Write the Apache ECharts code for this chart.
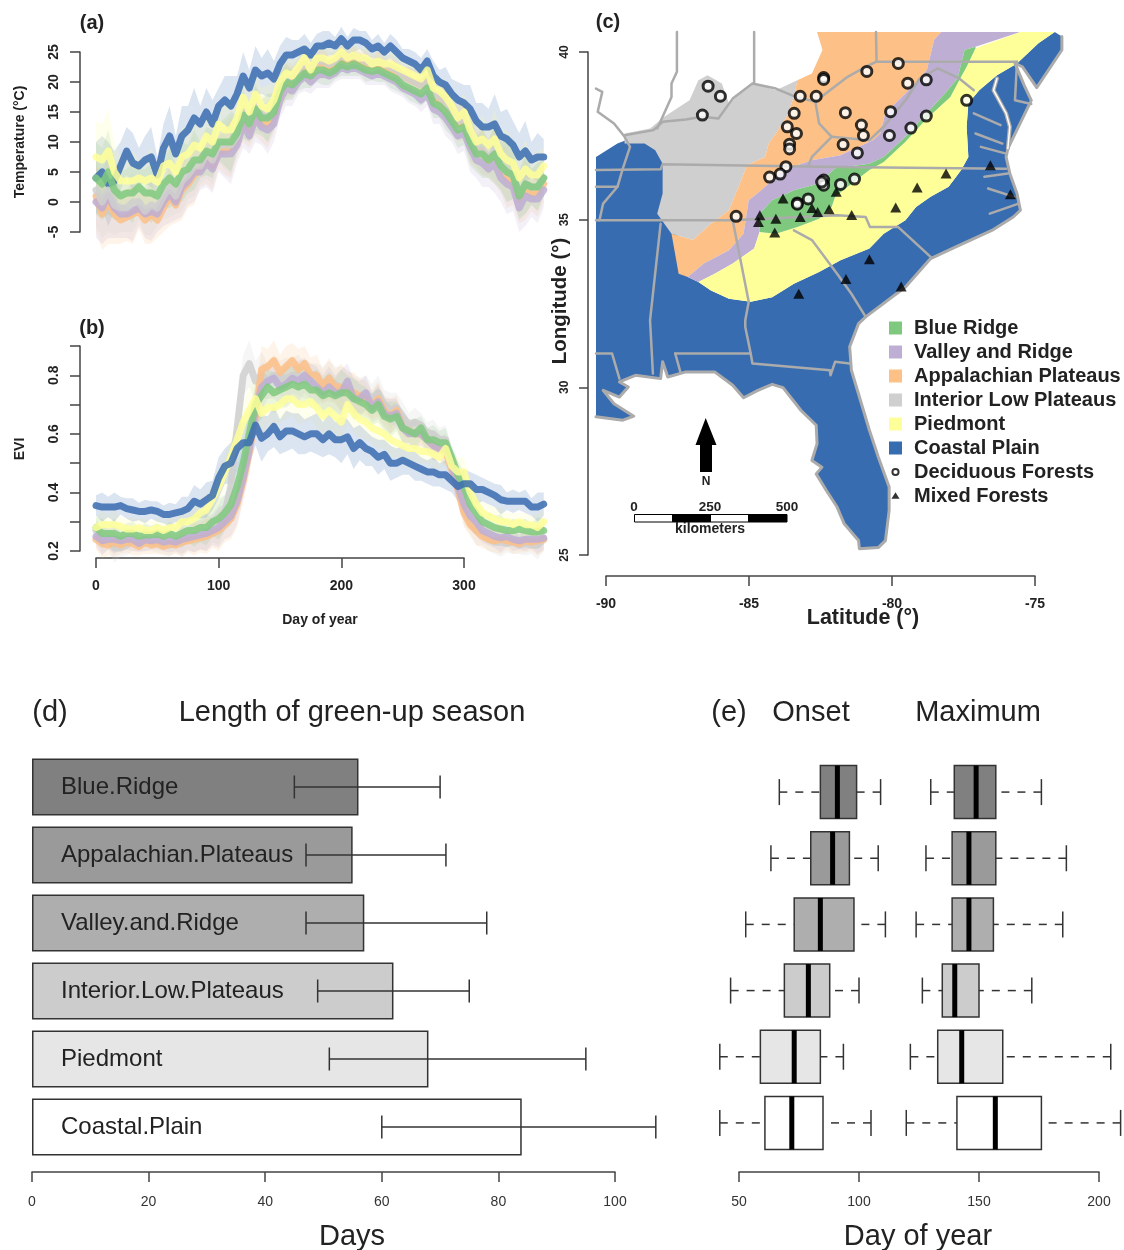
<!DOCTYPE html>
<html><head><meta charset="utf-8">
<style>html,body{margin:0;padding:0;background:#fff}#c{width:1124px;height:1250px}</style>
<script src="https://cdn.jsdelivr.net/npm/echarts@6/dist/echarts.min.js"></script>
</head><body><div id="c"></div>
<script>
// ---------- (a) temperature, one value every 5 days from day 0 to day 365 ----------
const tempBlue=[4,5,3,3.5,6,8.5,6.5,6,7,7.5,4.5,9,11,8,11,12,14,13,15,13,16,17,16,18,21,19,22,21,21.5,20.5,23,24.5,24.5,25,25.5,24.5,26,26,26.5,26,27.2,26,27,27,26.5,25.5,26,25,26,25,24,23.5,23,22,23.5,21,20,19.5,18,17,16.5,15.5,13.5,12.5,12.5,13,11,10.5,9.5,7.5,8.5,7,7.5,7.5];
const tempYellow=[7.5,7,8.5,5,3.5,3.5,3.5,4,3.5,4,3.3,6,6.5,5,7.5,8,9.5,9,11,10,13,12,12,14,17.5,15,18,16,15.5,17,20,21.5,21,22.5,24,22,24,24,23.5,24,25,24,24.5,24,24,23,23.5,23,23,22.5,22,21.5,21,20.5,22,19,18.5,17.5,16,14,15,12,10,10.5,9.5,10.5,8,7,6.5,4,5.5,4.5,4.5,6];
const tempGreen=[4,3,5,2,1,1.5,1.5,2.5,1.5,1.5,1,3,4,3,5,5.5,7,7,8.5,8,10,10,10,11.5,14.5,13,15.5,14,14,15,18.5,20,19.5,20.5,21.5,21,22,22,21.5,22,23,22.5,23,22.5,22,21.8,22,21.5,21,20.5,19.5,19,18.5,18,19,16.5,16,15,13.5,12,12.5,10,8,8,7,8,6,5,4.5,1,3,2.5,2.5,4];
const tempPurple=[0,-1,1,-1,-2,-2,-1.5,-1,-2,-1.5,-2,0,1.5,0,2.5,3.5,5,5,6.5,5.5,8,8,8,9.5,13,11,14,12.5,12,13,17,19,18.5,20,21,20,21,21.5,21,21.5,22.5,22,22.5,22,21.5,21,21.5,21,20.5,20,19,18.5,18,17,18,15.5,15,14,12.5,11,11.5,9,7,6.5,5.5,6.5,4,3,2.5,-1,1,0.5,0.5,2];
const tempOrange=[1,-2,0,-2,-3,-2.5,-2,-1.5,-3,-2,-3,-1,1,-0.5,2,3,4.5,5.5,7,6,8.5,8.5,9,10.5,14,12,15,13,13,14.5,18,20,20,21.5,22.5,21.5,23,23,22.5,23,24,23.5,24,23.5,23,22.5,23,22.5,22,21.5,21,20.5,20,19.5,20.5,17.5,17,16,14.5,13,13.5,10.5,8.5,8.5,7,8,5.5,4,3.5,0.5,2,1.5,1.5,3];
const tempGrey=[2,0,2,-0.5,-1,-1,0,0,-1.5,-0.5,-1,1,2.5,1,3.5,4.5,6,6,8,7,9.5,9.5,9.5,11,15,13,16,14.5,14,15.5,19,20.5,20.5,22,23,22,23.5,23.5,23,23.5,24.5,24,24.5,24,23.5,23,23.5,23,22.5,22,21,20.5,20,19.5,20.5,18,17.5,16.5,15,13.5,14,11,9,8.5,7.5,8.5,6,5,4.5,1.5,3,2.5,2.5,4];
const tempSpread=[6,6,7,5,4,4,5,3,4,5,3,4,5,3,5,4,5,3,4,4,3,4,5,3,4,3,4,3,4,3,3,3,2.5,2,2.5,2,2,2.5,2,1.5,2,1.5,2,1.5,2,1.5,2,1.5,2,2,1.5,2,2,2,2,2.5,2,3,2.5,3,3,4,3,4,3,5,4,5,4,4,5,3,4,3];
// ---------- (b) EVI ----------
const eviBlue=[.355,.35,.35,.35,.355,.345,.34,.335,.335,.34,.335,.325,.325,.33,.335,.345,.37,.36,.375,.39,.45,.49,.50,.55,.57,.57,.63,.585,.60,.625,.59,.61,.61,.60,.59,.60,.60,.58,.60,.58,.58,.59,.55,.57,.55,.54,.52,.53,.50,.50,.51,.50,.49,.48,.47,.47,.46,.46,.44,.42,.43,.43,.41,.41,.40,.39,.375,.37,.37,.37,.37,.35,.35,.36];
const eviYellow=[.28,.29,.29,.29,.285,.275,.275,.28,.27,.27,.28,.27,.28,.28,.30,.30,.31,.33,.34,.38,.42,.47,.52,.58,.64,.68,.72,.67,.69,.69,.70,.72,.72,.70,.70,.71,.69,.66,.68,.66,.64,.70,.67,.65,.64,.62,.61,.60,.58,.57,.56,.55,.55,.54,.54,.53,.52,.55,.49,.47,.47,.40,.36,.33,.32,.31,.30,.30,.29,.30,.29,.29,.28,.30];
const eviGreen=[.28,.26,.26,.26,.25,.26,.26,.25,.255,.255,.26,.25,.26,.25,.26,.27,.27,.28,.28,.30,.31,.33,.36,.42,.50,.60,.70,.73,.76,.74,.75,.76,.77,.76,.77,.75,.75,.73,.74,.73,.74,.74,.72,.71,.70,.68,.70,.66,.65,.66,.62,.61,.60,.62,.58,.58,.57,.57,.52,.46,.42,.36,.33,.30,.29,.28,.275,.27,.27,.275,.27,.265,.265,.27];
const eviPurple=[.25,.235,.24,.24,.235,.24,.24,.225,.24,.235,.24,.23,.235,.23,.24,.245,.25,.255,.26,.27,.28,.30,.32,.37,.45,.55,.68,.76,.78,.79,.76,.77,.79,.78,.80,.78,.76,.74,.76,.74,.74,.78,.72,.72,.74,.69,.71,.67,.66,.67,.62,.60,.60,.60,.58,.56,.55,.55,.49,.42,.36,.32,.30,.27,.26,.25,.245,.25,.24,.235,.24,.24,.24,.245];
const eviOrange=[.24,.225,.22,.23,.22,.23,.225,.215,.23,.22,.225,.215,.225,.22,.23,.235,.24,.245,.25,.26,.27,.29,.31,.36,.44,.54,.66,.82,.83,.85,.81,.83,.85,.82,.84,.80,.80,.76,.79,.76,.76,.75,.74,.73,.72,.70,.72,.68,.66,.68,.62,.61,.60,.60,.58,.56,.55,.54,.48,.41,.33,.29,.27,.25,.24,.235,.24,.235,.23,.225,.235,.23,.235,.24];
const eviGrey=[.27,.24,.24,.21,.21,.22,.24,.23,.24,.23,.23,.22,.22,.225,.23,.24,.25,.255,.26,.28,.29,.33,.42,.62,.80,.84,.78,.80,.78,.80,.79,.79,.80,.80,.78,.78,.77,.77,.78,.77,.75,.76,.73,.73,.74,.72,.74,.70,.68,.69,.66,.63,.64,.63,.60,.60,.58,.58,.50,.44,.34,.30,.27,.26,.24,.23,.23,.225,.23,.22,.225,.22,.22,.24];
const eviSpread=[.035,.05,.035,.05,.03,.035,.04,.03,.04,.03,.035,.03,.04,.03,.05,.04,.055,.05,.06,.05,.07,.06,.07,.08,.07,.08,.07,.08,.06,.07,.06,.07,.06,.07,.06,.06,.07,.06,.07,.06,.08,.06,.07,.06,.06,.05,.06,.05,.06,.05,.05,.04,.05,.04,.04,.05,.04,.05,.04,.05,.05,.04,.05,.04,.04,.04,.05,.03,.04,.03,.04,.03,.05,.04];

// ---------- (c) map outlines, [longitude, latitude] ----------
const fallLine=[[-74.31,40.60],[-74.88,40.26],[-75.63,39.66],[-76.33,39.31],[-76.95,38.86],[-77.33,38.47],[-77.39,37.77],[-77.33,36.87],[-77.58,36.48],[-78.02,35.98],[-78.65,35.68],[-79.16,35.38],[-79.53,34.98],[-80.29,34.58],[-80.79,34.14],[-81.80,33.79],[-82.55,33.44],[-83.43,33.09],[-84.19,32.69],[-84.94,32.55],[-85.70,32.64],[-86.33,32.89],[-86.77,33.14]];
const plainWest=[[-87.14,33.29],[-87.30,33.60],[-87.40,34.20],[-87.55,34.70],[-88.00,35.20],[-87.90,35.78],[-87.90,36.67],[-88.10,37.10],[-88.50,37.35],[-89.35,37.35],[-89.60,37.27],[-90.35,36.87]];
const coastLine=[[-90.35,29.12],[-89.41,29.02],[-89.03,29.14],[-89.72,29.51],[-90.10,29.91],[-89.53,29.71],[-89.22,30.01],[-89.53,30.16],[-88.97,30.36],[-88.09,30.26],[-88.02,30.76],[-87.84,30.31],[-87.21,30.46],[-86.20,30.46],[-85.57,30.06],[-85.19,29.69],[-84.69,29.91],[-84.19,30.09],[-83.81,29.99],[-83.18,29.31],[-82.65,28.87],[-82.62,28.32],[-82.80,27.82],[-82.45,27.62],[-82.65,27.42],[-82.30,26.93],[-81.92,26.43],[-81.67,25.93],[-81.17,25.43],[-81.14,25.19],[-80.48,25.22],[-80.23,25.43],[-80.10,26.33],[-80.10,27.03],[-80.48,27.92],[-80.79,28.72],[-81.42,30.51],[-81.48,31.21],[-81.17,31.90],[-80.92,32.10],[-79.53,32.99],[-78.65,33.84],[-77.77,34.19],[-76.51,34.68],[-75.76,35.08],[-75.51,35.28],[-75.63,35.78],[-75.88,36.38],[-76.01,36.87],[-75.95,37.12],[-75.13,38.56],[-75.38,39.01],[-75.70,39.66],[-75.44,39.56],[-74.94,38.94],[-74.06,40.06],[-74.06,40.46]];
const piedmontTop=[[-86.20,33.39],[-85.57,33.69],[-84.82,34.14],[-84.63,34.63],[-84.06,34.58],[-83.31,34.78],[-82.55,35.03],[-82.11,35.38],[-81.99,35.68],[-81.55,35.98],[-80.79,36.48],[-80.29,36.72],[-79.53,37.32],[-78.78,38.02],[-77.96,38.66],[-77.65,39.16],[-77.39,39.56],[-77.08,40.11]];
const ridgeTop=[[-84.63,35.18],[-84.19,35.58],[-83.43,35.88],[-82.55,36.08],[-81.99,36.53],[-80.79,36.67],[-80.29,36.87],[-79.53,37.47],[-78.90,38.07],[-78.15,38.76],[-77.71,39.21],[-77.58,39.66],[-77.46,40.06]];
const valleyTop=[[-87.14,33.29],[-86.58,33.69],[-85.70,34.09],[-85.19,34.58],[-85.01,35.58],[-84.57,35.88],[-83.81,36.48],[-82.80,36.77],[-81.80,36.92],[-80.67,37.37],[-80.41,37.57],[-80.23,38.17],[-79.53,38.76],[-78.78,39.46],[-78.53,40.36],[-78.28,40.60]];
const plateauWest=[[-82.62,40.60],[-82.43,40.06],[-82.80,39.36],[-83.31,39.16],[-83.43,38.66],[-83.68,38.07],[-84.06,37.57],[-84.31,37.27],[-84.44,36.87],[-85.07,36.62],[-85.32,36.08],[-85.70,35.28],[-86.33,34.88],[-86.96,34.39],[-87.71,34.58]];
const interiorNorth=[[-89.35,37.57],[-88.46,37.72],[-87.96,38.07],[-87.08,38.56],[-86.77,39.16],[-86.45,39.31],[-85.95,39.06],[-85.70,38.47],[-85.45,38.66],[-84.82,39.06],[-84.06,38.86],[-83.31,39.16]];
const interiorSouth=[[-88.21,35.18],[-88.02,35.78],[-88.02,36.67],[-88.28,37.07],[-88.65,37.27],[-89.35,37.27]];
const stateLines=[
 [[-87.52,40.60],[-87.52,39.41],[-87.71,39.06],[-87.71,38.66],[-88.02,38.07],[-88.21,37.72]],
 [[-89.35,37.52],[-88.34,37.67],[-88.02,37.92],[-87.21,37.99],[-86.64,38.07],[-86.07,38.02],[-85.57,38.61],[-84.88,39.06],[-84.06,38.91],[-83.37,38.66],[-82.68,38.52]],
 [[-84.82,40.60],[-84.82,39.06]],
 [[-90.35,38.91],[-90.13,38.81],[-90.29,38.22],[-89.72,37.87],[-89.35,37.47],[-89.16,37.17],[-89.41,36.53],[-89.60,35.98],[-90.10,35.48],[-90.23,34.98]],
 [[-90.35,36.48],[-88.09,36.50],[-88.02,36.65],[-83.56,36.59],[-81.92,36.57],[-76.01,36.52]],
 [[-90.35,35.98],[-89.60,35.98]],
 [[-90.35,34.98],[-85.57,34.98],[-81.92,35.13],[-80.92,35.08],[-80.77,34.78],[-79.78,34.78],[-78.65,33.89]],
 [[-88.09,34.88],[-88.46,32.00],[-88.36,30.41]],
 [[-85.57,34.98],[-85.01,32.55],[-85.13,32.00],[-85.13,31.80],[-84.94,31.01]],
 [[-87.58,31.01],[-87.40,30.46]],
 [[-87.58,31.01],[-84.94,31.01],[-84.88,30.71],[-82.17,30.51],[-82.15,30.36],[-81.99,30.76],[-81.48,30.71]],
 [[-83.43,34.68],[-82.80,34.39],[-81.92,33.39],[-81.42,32.79],[-80.92,32.10]],
 [[-90.35,31.01],[-89.79,31.01],[-89.53,30.26]],
 [[-82.68,38.52],[-82.55,37.87],[-82.11,37.47],[-82.80,36.87],[-82.93,36.60]],
 [[-82.68,38.52],[-82.17,38.86],[-81.55,39.26],[-80.92,39.56],[-80.54,39.71]],
 [[-80.56,40.60],[-80.54,39.71],[-75.63,39.71]],
 [[-75.63,39.71],[-75.70,38.56],[-75.13,38.45]],
 [[-82.11,37.47],[-80.79,37.37],[-80.29,37.77],[-79.53,38.56],[-79.03,39.21],[-78.40,39.51],[-77.65,39.21],[-77.14,38.86]],
 [[-77.14,38.17],[-76.20,37.82]],
 [[-77.08,37.57],[-76.14,37.27]],
 [[-76.89,37.17],[-76.01,36.97]],
 [[-76.77,36.28],[-75.95,36.38]],
 [[-76.64,35.93],[-75.73,35.68]],
 [[-76.58,35.18],[-75.57,35.48]]
];
const chesapeake=[[-76.33,39.21],[-76.45,38.86],[-76.01,38.17],[-75.88,37.77],[-75.95,37.12]];
const deciduousForests=[[-86.43,38.98],[-86.00,38.68],[-86.63,38.12],[-82.39,39.24],[-82.39,39.18],[-80.88,39.42],[-79.78,39.66],[-79.45,39.07],[-78.80,39.17],[-83.21,38.68],[-82.65,38.68],[-83.42,38.17],[-81.63,38.19],[-80.05,38.22],[-78.80,38.09],[-77.39,38.56],[-83.66,37.77],[-83.34,37.57],[-81.07,37.82],[-81.00,37.51],[-80.09,37.51],[-79.34,37.73],[-83.58,37.25],[-83.58,37.11],[-81.71,37.24],[-81.21,36.99],[-83.71,36.58],[-83.91,36.36],[-84.28,36.27],[-82.39,36.18],[-82.39,36.03],[-82.46,36.12],[-81.80,36.05],[-81.31,36.21],[-82.93,35.62],[-83.31,35.50],[-83.31,35.46],[-85.45,35.10]];
const mixedForests=[[-76.56,36.62],[-78.11,36.38],[-79.12,35.96],[-75.86,35.76],[-81.95,35.83],[-83.81,35.63],[-79.87,35.36],[-82.80,35.35],[-82.20,35.31],[-82.60,35.23],[-83.21,35.08],[-84.06,35.03],[-84.62,35.13],[-84.67,34.93],[-81.41,35.14],[-84.10,34.62],[-80.79,33.82],[-81.61,33.23],[-79.68,33.01],[-83.26,32.79]];

// ---------- (d) length of green-up season ----------
const regions=['Blue.Ridge','Appalachian.Plateaus','Valley.and.Ridge','Interior.Low.Plateaus','Piedmont','Coastal.Plain'];
const seasonDays=[56,55,57,62,68,84];
const seasonLow=[45,47,47,49,51,60];
const seasonHigh=[70,71,78,75,95,107];
const regionGrey=['#808080','#9a9a9a','#aeaeae','#cccccc','#e6e6e6','#ffffff'];
// ---------- (e) [whisker low, Q1, median, Q3, whisker high] ----------
const onsetBox=[[66.8,83.9,91,99,109],[63.3,79.9,89,96,108],[52.8,73,83.9,97.9,111],[46.5,68.9,78.9,87.8,100],[42,58.9,73,83.9,93.5],[42,60.8,72,85,105]];
const maximumBox=[[129.9,139.7,148.8,157,176],[127.9,138.8,145.8,157,186.4],[123.8,138.8,145.8,156,184.9],[126.4,134.7,139.9,150,172],[121.4,132.8,142.8,159.9,204.9],[119.7,140.8,156.8,176,209]];

const FONT='"Liberation Sans",Arial,sans-serif';
const C={green:'#7fc97f',purple:'#beaed4',orange:'#fdc086',grey:'#cfcfcf',yellow:'#ffff99',blue:'#386cb0'};
const AX='#444';
const days=tempBlue.map((_,i)=>i*5);
const series=[];

function polygon(name,coords,fill,xi,yi,opacity){
  series.push({type:'custom',name,xAxisIndex:xi,yAxisIndex:yi,clip:false,silent:true,itemStyle:{color:fill},
    data:[coords[0]],
    renderItem:(p,api)=>({type:'polygon',shape:{points:coords.map(c=>api.coord(c))},style:{fill,opacity:opacity==null?1:opacity}})});
}
function polyline(coords,stroke,width,xi,yi){
  series.push({type:'custom',xAxisIndex:xi,yAxisIndex:yi,clip:false,silent:true,
    data:[coords[0]],
    renderItem:(p,api)=>({type:'polyline',shape:{points:coords.map(c=>api.coord(c))},style:{stroke,lineWidth:width,fill:null,lineJoin:'round',lineCap:'round'}})});
}
function ribbons(list,spread,xi,yi,w){
  list.forEach(([vals,col])=>{
    const up=vals.map((v,i)=>[days[i],v+spread[i]]);
    const lo=vals.map((v,i)=>[days[i],v-spread[i]]).reverse();
    polygon(col+'band',up.concat(lo),col,xi,yi,0.18);
  });
  list.forEach(([vals,col])=>{
    series.push({type:'line',xAxisIndex:xi,yAxisIndex:yi,clip:false,silent:true,symbol:'none',
      data:vals.map((v,i)=>[days[i],v]),
      lineStyle:{color:col,width:w,opacity:0.85,join:'round',cap:'round'}});
  });
}
ribbons([[tempBlue,C.blue],[tempOrange,C.orange],[tempPurple,C.purple],[tempGrey,C.grey],[tempGreen,C.green],[tempYellow,C.yellow]],tempSpread,5,5,7);
ribbons([[eviGrey,C.grey],[eviOrange,C.orange],[eviPurple,C.purple],[eviGreen,C.green],[eviYellow,C.yellow],[eviBlue,C.blue]],eviSpread,6,6,7);

// map
const coastal=fallLine.concat(plainWest,coastLine);
const piedmont=[[-75.51,40.60]].concat(fallLine,piedmontTop);
const ridge=ridgeTop.concat([[-77.08,40.16]],piedmontTop.slice(3).reverse());
const valley=valleyTop.concat([[-75.51,40.60],[-77.08,40.16]],ridgeTop.slice().reverse(),piedmontTop.slice(0,4).reverse(),[[-86.77,33.14]]);
const plateau=plateauWest.concat([[-87.46,33.39]],valleyTop);
const interior=interiorNorth.concat(plateauWest.slice(3),interiorSouth);
polygon('Coastal Plain',coastal,C.blue,2,2);
polygon('Interior Low Plateaus',interior,C.grey,2,2);
polygon('Appalachian Plateaus',plateau,C.orange,2,2);
polygon('Valley and Ridge',valley,C.purple,2,2);
polygon('Piedmont',piedmont,C.yellow,2,2);
polygon('Blue Ridge',ridge,C.green,2,2);
const ST='#ababab';
stateLines.forEach(l=>polyline(l,ST,2.5,2,2));
polyline(coastLine,ST,3,2,2);
polyline(chesapeake,ST,4,2,2);
polyline(chesapeake,'#ffffff',1.5,2,2);
series.push({type:'scatter',name:'Mixed Forests',xAxisIndex:2,yAxisIndex:2,clip:false,silent:true,symbol:'triangle',symbolSize:[11,10],data:mixedForests,itemStyle:{color:'#000'},z:5});
series.push({type:'scatter',name:'Deciduous Forests',xAxisIndex:2,yAxisIndex:2,clip:false,silent:true,symbol:'circle',symbolSize:10,data:deciduousForests,itemStyle:{color:'#fff',borderColor:'#000',borderWidth:3},z:6});

// (d)
series.push({type:'bar',xAxisIndex:3,yAxisIndex:3,barWidth:57,silent:true,
  data:seasonDays.map((v,i)=>({value:v,name:regions[i],itemStyle:{color:regionGrey[i],borderColor:'#333',borderWidth:1.5}})),
  label:{show:true,position:'insideLeft',distance:29,formatter:'{b}',color:'#222',fontFamily:FONT,fontSize:24}});
series.push({type:'custom',xAxisIndex:3,yAxisIndex:3,clip:false,silent:true,z:4,
  data:regions.map((r,i)=>[seasonLow[i],seasonHigh[i],i]),
  encode:{x:[0,1],y:2},
  renderItem:(p,api)=>{
    const a=api.coord([api.value(0),api.value(2)]),b=api.coord([api.value(1),api.value(2)]);
    const st={stroke:'#333',lineWidth:1.5};
    return {type:'group',children:[
      {type:'line',shape:{x1:a[0],y1:a[1],x2:b[0],y2:b[1]},style:st},
      {type:'line',shape:{x1:a[0],y1:a[1]-11.5,x2:a[0],y2:a[1]+11.5},style:st},
      {type:'line',shape:{x1:b[0],y1:b[1]-11.5,x2:b[0],y2:b[1]+11.5},style:st}]};
  }});
// (e)
function boxes(rows){
  series.push({type:'custom',xAxisIndex:4,yAxisIndex:4,clip:false,silent:true,
    data:rows.map((r,i)=>r.concat([i])),
    encode:{x:[0,1,2,3,4],y:5},
    renderItem:(p,api)=>{
      const i=p.dataIndex,yv=api.value(5);
      const X=k=>api.coord([api.value(k),yv])[0],cy=api.coord([api.value(2),yv])[1];
      const h=26.5,st={stroke:'#333',lineWidth:1.5},dash={stroke:'#333',lineWidth:1.5,lineDash:[8,8]};
      return {type:'group',children:[
        {type:'line',shape:{x1:X(0),y1:cy,x2:X(1),y2:cy},style:dash},
        {type:'line',shape:{x1:X(4),y1:cy,x2:X(3),y2:cy},style:dash},
        {type:'line',shape:{x1:X(0),y1:cy-13,x2:X(0),y2:cy+13},style:st},
        {type:'line',shape:{x1:X(4),y1:cy-13,x2:X(4),y2:cy+13},style:st},
        {type:'rect',shape:{x:X(1),y:cy-h,width:X(3)-X(1),height:2*h},style:{fill:regionGrey[i],stroke:'#333',lineWidth:1.5}},
        {type:'line',shape:{x1:X(2),y1:cy-h,x2:X(2),y2:cy+h},style:{stroke:'#000',lineWidth:5}}]};
    }});
}
boxes(onsetBox);boxes(maximumBox);

function axisStyle(extra){
  return Object.assign({axisLine:{show:true,onZero:false,lineStyle:{color:AX,width:1.5}},
    axisTick:{show:true,length:10,lineStyle:{color:AX,width:1.5}},splitLine:{show:false},scale:true},extra);
}
const boldLab={color:'#222',fontFamily:FONT,fontWeight:'bold',fontSize:14};
const plainLab={color:'#333',fontFamily:FONT,fontSize:14};

function T(x,y,text,size,opt){
  return {type:'text',x,y,silent:true,style:{text,font:(opt&&opt.bold?'bold ':'')+size+'px '+FONT,fill:(opt&&opt.fill)||'#222',align:'center',verticalAlign:'middle'},rotation:opt&&opt.rot?Math.PI/2:0};
}
const graphicEls=[
  T(92,23,'(a)',20,{bold:1}),T(92,328,'(b)',20,{bold:1}),T(608,22,'(c)',20,{bold:1}),
  T(20,142,'Temperature (°C)',14,{bold:1,rot:1}),T(20,449,'EVI',14,{bold:1,rot:1}),
  T(320,620,'Day of year',14,{bold:1}),
  T(560,301,'Longitude (°)',20.5,{bold:1,rot:1}),T(863,618,'Latitude (°)',21.5,{bold:1}),
  T(50,713,'(d)',29),T(352,713,'Length of green-up season',29),
  T(729,713,'(e)',29),T(811,713,'Onset',29),T(978,713,'Maximum',29),
  T(352,1237,'Days',29),T(918,1237,'Day of year',29),
  {type:'polygon',silent:true,shape:{points:[[705.7,418],[716.5,445],[712,445],[712,472],[700,472],[700,445],[695.5,445]]},style:{fill:'#000'}},
  T(706,482,'N',12,{bold:1}),
  {type:'rect',silent:true,shape:{x:634.5,y:514.5,width:152.5,height:7.5},style:{fill:'#fff',stroke:'#000',lineWidth:1}},
  {type:'rect',silent:true,shape:{x:672,y:514.5,width:39,height:7.5},style:{fill:'#000'}},
  {type:'rect',silent:true,shape:{x:748,y:514.5,width:39,height:7.5},style:{fill:'#000'}},
  T(634,507,'0',13.5,{bold:1}),T(710,507,'250',13.5,{bold:1}),T(787,507,'500',13.5,{bold:1}),T(710,529,'kilometers',14,{bold:1})
];
// legend glyphs: tiny corner strokes keep the ring and triangle smaller than the colour squares
const RING='path://M8,3 A5,5 0 1 1 7.99,3 Z M8,5.4 A2.6,2.6 0 1 0 8.01,5.4 Z M0,0 L0.01,0 M16,16 L15.99,16';
const TRI='path://M8,3.5 L13,11.5 L3,11.5 Z M0,0 L0.01,0 M16,16 L15.99,16';

const option={animation:false,backgroundColor:'#fff',
  textStyle:{fontFamily:FONT},
  legend:{show:true,orient:'vertical',left:889,top:318,padding:0,itemWidth:13,itemHeight:13,itemGap:4,selectedMode:false,
    textStyle:{fontFamily:FONT,fontWeight:'bold',fontSize:20,color:'#222',lineHeight:19,padding:[0,0,0,7]},
    data:[{name:'Blue Ridge',icon:'rect',itemStyle:{color:C.green}},{name:'Valley and Ridge',icon:'rect',itemStyle:{color:C.purple}},{name:'Appalachian Plateaus',icon:'rect',itemStyle:{color:C.orange}},{name:'Interior Low Plateaus',icon:'rect',itemStyle:{color:C.grey}},{name:'Piedmont',icon:'rect',itemStyle:{color:C.yellow}},{name:'Coastal Plain',icon:'rect',itemStyle:{color:C.blue}},
      {name:'Deciduous Forests',icon:RING,itemStyle:{color:'#000',borderWidth:0}},{name:'Mixed Forests',icon:TRI,itemStyle:{color:'#000'}}]},
  grid:[
    {left:96,top:52,width:368,height:180},
    {left:96,top:346,width:368,height:205},
    {left:606,top:52,width:429,height:503},
    {left:32,top:753,width:583,height:408},
    {left:739,top:759,width:360,height:397},
    {left:96,top:52,width:447.73,height:180},
    {left:96,top:346,width:447.73,height:205}],
  xAxis:[
    {type:'value',gridIndex:0,min:0,max:300,show:false},
    axisStyle({type:'value',gridIndex:1,min:0,max:300,interval:100,position:'bottom',offset:7,axisLabel:Object.assign({margin:21},boldLab)}),
    axisStyle({type:'value',gridIndex:2,min:-90,max:-75,interval:5,position:'bottom',offset:21,axisLabel:Object.assign({margin:21},boldLab)}),
    axisStyle({type:'value',gridIndex:3,min:0,max:100,interval:20,position:'bottom',offset:11,axisLabel:Object.assign({margin:23},plainLab)}),
    axisStyle({type:'value',gridIndex:4,min:50,max:200,interval:50,position:'bottom',offset:16,axisLabel:Object.assign({margin:23},plainLab)}),
    {type:'value',gridIndex:5,min:0,max:365,show:false},
    {type:'value',gridIndex:6,min:0,max:365,show:false}],
  yAxis:[
    axisStyle({type:'value',gridIndex:0,min:-5,max:25,interval:5,position:'left',offset:16,axisLabel:Object.assign({rotate:90,margin:19},boldLab)}),
    axisStyle({type:'value',gridIndex:1,min:0.2,max:0.9,interval:0.1,position:'left',offset:16,axisLabel:Object.assign({rotate:90,margin:19,formatter:v=>Math.round(v*10)%2===0?v.toFixed(1):''},boldLab)}),
    axisStyle({type:'value',gridIndex:2,min:25,max:40,interval:5,position:'left',offset:18,axisLabel:Object.assign({},boldLab,{rotate:90,margin:17,fontSize:12}),axisTick:{show:true,length:9,lineStyle:{color:AX,width:1.5}}}),
    {type:'category',gridIndex:3,data:regions,inverse:true,show:false},
    {type:'category',gridIndex:4,data:regions,inverse:true,show:false},
    {type:'value',gridIndex:5,min:-5,max:25,show:false},
    {type:'value',gridIndex:6,min:0.2,max:0.9,show:false}],
  graphic:{elements:graphicEls},
  series
};
const chart=echarts.init(document.getElementById('c'),null,{renderer:'canvas'});
chart.setOption(option);
</script></body></html>
